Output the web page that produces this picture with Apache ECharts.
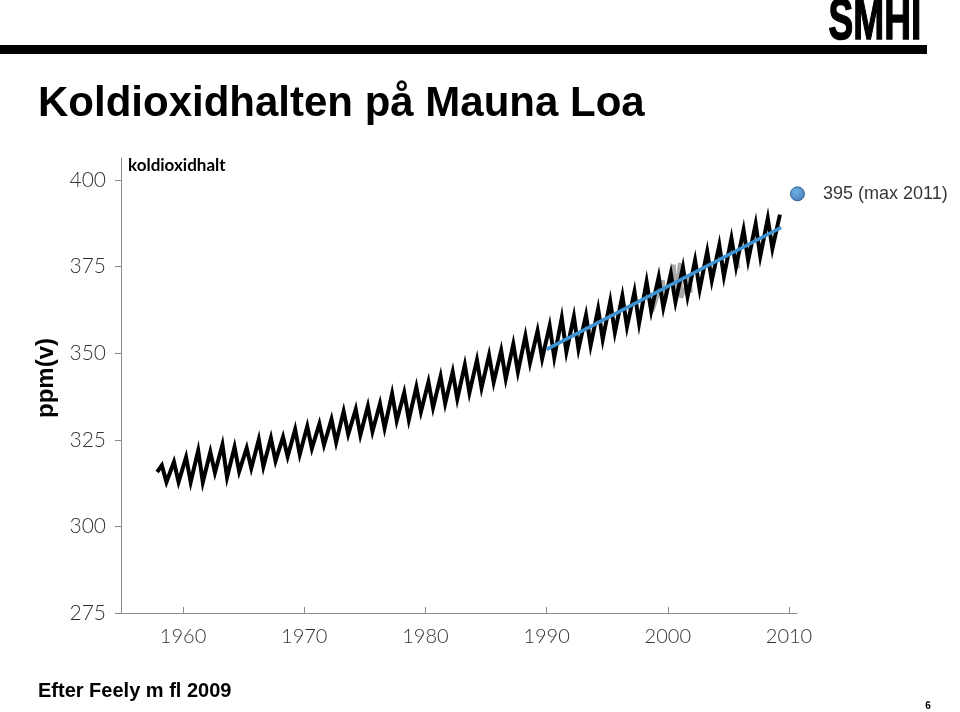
<!DOCTYPE html>
<html>
<head>
<meta charset="utf-8">
<script src="https://cdn.jsdelivr.net/npm/echarts@6/dist/echarts.min.js"></script>
<style>
html,body{margin:0;padding:0;background:#fff;}
#chart{width:960px;height:712px;}
</style>
</head>
<body>
<div id="chart"></div>
<script>
// ---- data ----
var years = [1958,1959,1960,1961,1962,1963,1964,1965,1966,1967,1968,1969,1970,1971,1972,1973,1974,1975,1976,1977,1978,1979,1980,1981,1982,1983,1984,1985,1986,1987,1988,1989,1990,1991,1992,1993,1994,1995,1996,1997,1998,1999,2000,2001,2002,2003,2004,2005,2006,2007,2008,2009];
// seasonal maxima (northern spring) per year, ppm
var peaks = [317.6,318.6,320.0,321.9,321.5,323.6,322.9,322.6,325.1,325.5,325.8,328.0,328.9,329.6,330.9,333.2,333.8,334.7,335.4,338.3,338.6,340.2,341.7,343.3,344.6,346.6,348.0,349.4,350.8,352.6,355.0,356.4,357.9,360.2,360.6,361.0,362.8,365.0,366.5,367.8,370.6,372.0,373.0,374.8,376.8,379.4,381.2,383.2,385.6,387.3,388.9,390.0];
// seasonal minima (autumn) per year, ppm (none drawn after the 2009 peak)
var troughs = [312.8,312.8,312.8,312.8,315.5,314.2,315.9,316.8,317.3,318.9,320.2,320.8,322.5,323.5,324.3,326.6,326.4,327.4,328.4,330.5,330.8,333.1,334.3,335.5,336.8,338.6,340.0,341.6,342.6,344.6,347.2,348.4,348.8,350.4,351.2,352.2,354.0,356.0,357.6,358.6,362.2,363.2,364.8,366.4,368.4,371.0,372.2,375.0,376.8,378.0,380.2];
var startPoint = [1957.86, 315.7];
var peakOffset = 0.25, troughOffset = 0.63;

// blue trend line 1990-2009
var trendX = [1990, 2009.35];
var trendY = [351.1, 386.3];

// grey overlay fragments (x, y); null = gap
var greyX = [1993.5,1993.6,null,1998.6,1998.7,1999.6,1999.7,2000.5,2000.6,2001.0,2001.1,2001.8,2001.9,null,2005.7,2005.8];
var greyY = [357.5,354.5,null,366.0,362.0,371.0,364.5,375.5,365.5,376.0,366.0,372.0,367.5,null,378.0,374.5];

// highlighted value
var maxPoint = [2010.7, 396];
var maxLabel = '395 (max 2011)';

var xTicks = [1960,1970,1980,1990,2000,2010];
var yTicks = [275,300,325,350,375,400];

// ---- build series data ----
var blackData = [startPoint];
for (var i = 0; i < years.length; i++) {
  blackData.push([years[i] + peakOffset, peaks[i]]);
  if (i < troughs.length) blackData.push([years[i] + troughOffset, troughs[i]]);
}
var trendData = trendX.map(function (x, i) { return [x, trendY[i]]; });
var greyData = greyX.map(function (x, i) { return x === null ? '-' : [x, greyY[i]]; });

var chart = echarts.init(document.getElementById('chart'), null, {renderer: 'canvas'});
var axisFont = 'Lato, "DejaVu Sans", sans-serif';
chart.setOption({
  animation: false,
  backgroundColor: '#fff',
  grid: {left: 121, right: 163, top: 158, bottom: 99, containLabel: false},
  xAxis: {
    type: 'value', min: 1954.88, max: 2010.66,
    axisLine: {show: true, lineStyle: {color: '#8a8a8a', width: 1}},
    axisTick: {show: true, inside: true, length: 6, customValues: xTicks, lineStyle: {color: '#8a8a8a'}},
    axisLabel: {customValues: xTicks, margin: 14, color: '#333', fontFamily: axisFont, fontWeight: 300, fontSize: 20,
      formatter: function (v) { return String(Math.round(v)); }},
    splitLine: {show: false}
  },
  yAxis: {
    type: 'value', min: 275, max: 406.35,
    axisLine: {show: true, lineStyle: {color: '#8a8a8a', width: 1}},
    axisTick: {show: true, inside: false, length: 6, customValues: yTicks, lineStyle: {color: '#8a8a8a'}},
    axisLabel: {customValues: yTicks, margin: 15, color: '#333', fontFamily: axisFont, fontWeight: 300, fontSize: 21,
      formatter: function (v) { return String(Math.round(v)); }},
    splitLine: {show: false}
  },
  series: [
    {type: 'line', data: greyData, symbol: 'none', z: 1, connectNulls: false,
     lineStyle: {color: '#a9a9a9', width: 4}},
    {type: 'line', data: blackData, symbol: 'none', z: 2,
     lineStyle: {color: '#000', width: 4, join: 'miter', miterLimit: 10}},
    {type: 'line', data: trendData, symbol: 'none', z: 3,
     lineStyle: {color: '#3f92d2', width: 3.5}},
    {type: 'scatter', data: [maxPoint], symbol: 'circle', symbolSize: 14, z: 4, clip: false,
     itemStyle: {color: {type: 'radial', x: 0.4, y: 0.35, r: 0.7,
       colorStops: [{offset: 0, color: '#4b9ee2'}, {offset: 1, color: '#1a5fa8'}]},
       borderColor: '#174a80', borderWidth: 1},
     label: {show: true, position: 'right', distance: 18, formatter: maxLabel,
       color: '#000', fontSize: 18, fontFamily: '"Liberation Sans", Arial, sans-serif'}}
  ],
  graphic: [
    {type: 'rect', shape: {x: 0, y: 45, width: 927, height: 9}, style: {fill: '#000'}},
    {type: 'text', x: 875, y: 23, scaleX: 0.64, scaleY: 1.0, style: {text: 'SMHI', fill: '#000', align: 'center', verticalAlign: 'middle',
      font: 'bold 58px "Liberation Sans", Arial, sans-serif', stroke: '#000', lineWidth: 1.5}},
    {type: 'text', x: 38, y: 104, style: {text: 'Koldioxidhalten på Mauna Loa', fill: '#000', align: 'left', verticalAlign: 'middle',
      font: 'bold 42px "Liberation Sans", Arial, sans-serif'}},
    {type: 'text', x: 128, y: 166, style: {text: 'koldioxidhalt', fill: '#000', align: 'left', verticalAlign: 'middle',
      font: 'bold 17px Lato, "DejaVu Sans", sans-serif'}},
    {type: 'text', x: 46, y: 378, rotation: Math.PI / 2, style: {text: 'ppm(v)', fill: '#000', align: 'center', verticalAlign: 'middle',
      font: 'bold 24px "Liberation Sans", Arial, sans-serif'}},
    {type: 'text', x: 38, y: 691, style: {text: 'Efter Feely m fl 2009', fill: '#000', align: 'left', verticalAlign: 'middle',
      font: 'bold 20px "Liberation Sans", Arial, sans-serif'}},
    {type: 'text', x: 928, y: 706, style: {text: '6', fill: '#000', align: 'center', verticalAlign: 'middle',
      font: 'bold 10px "Liberation Sans", Arial, sans-serif'}}
  ]
});
</script>
</body>
</html>
